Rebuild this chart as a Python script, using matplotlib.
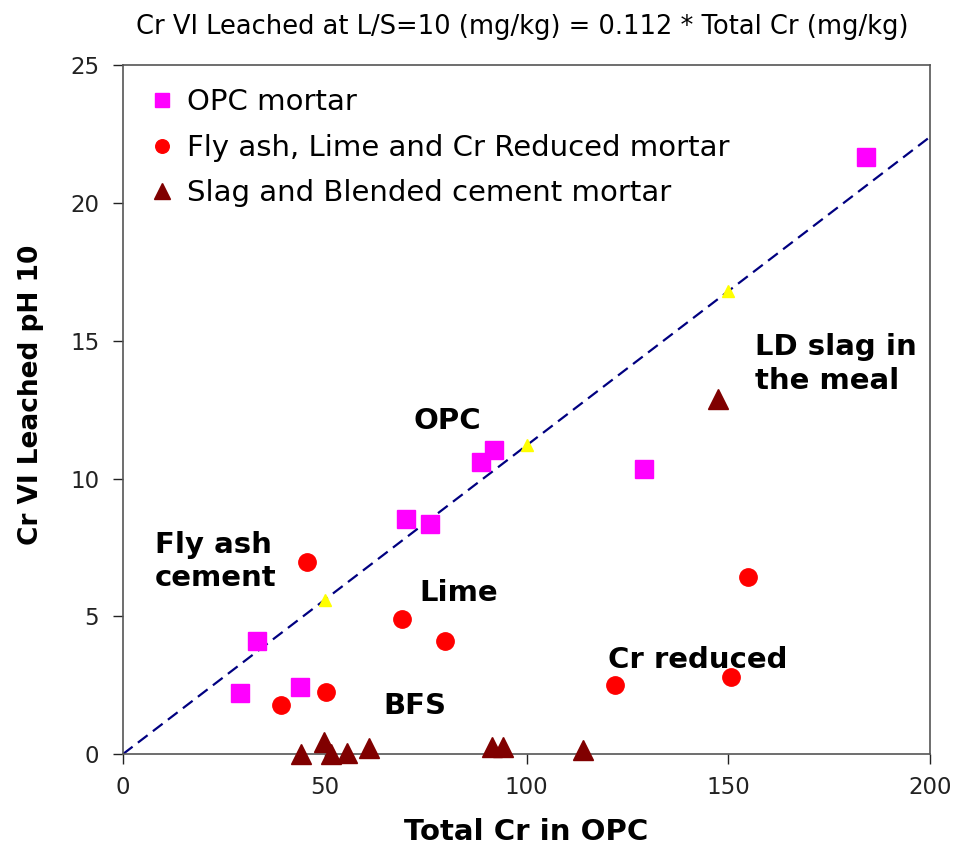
import numpy as np
import matplotlib.pyplot as plt

plt.rcParams['font.family'] = ['DejaVu Sans']

# OPC mortar
opc_x = [29.0, 33.2, 43.9, 70.1, 76.1, 88.7, 91.9, 129.1, 184.1]
opc_y = [2.21, 4.10, 2.43, 8.53, 8.35, 10.6, 11.05, 10.34, 21.66]

# Fly ash, lime and Cr reduced mortar
fly_x = [45.6, 39.2, 50.3, 69.1, 79.8, 121.9, 150.7, 154.9]
fly_y = [6.97, 1.78, 2.25, 4.90, 4.10, 2.50, 2.79, 6.42]

# Slag and blended cement mortar
slag_x = [44.1, 49.8, 51.5, 55.5, 61.0, 91.4, 94.2, 114.0, 147.5]
slag_y = [0.0, 0.45, 0.0, 0.05, 0.22, 0.25, 0.25, 0.15, 12.9]

# regression line: Cr VI = 0.112 * total Cr
slope = 0.112
line_x = [0, 200]
ref_x = [50, 100, 150]

labels = ["OPC mortar", "Fly ash, Lime and Cr Reduced mortar",
          "Slag and Blended cement mortar"]

fig = plt.figure(figsize=(9.6, 8.56), dpi=100)
ax = fig.add_axes([0.128, 0.119, 0.841, 0.805])

ax.plot(line_x, [slope * v for v in line_x], color='#000080', lw=1.6,
        dashes=(5.5, 3), zorder=1)
ax.plot(ref_x, [slope * v for v in ref_x], ls='none', marker='^',
        color='yellow', markersize=8.5, zorder=2)

ax.plot(opc_x, opc_y, ls='none', marker='s', color='#ff00ff',
        markersize=13, label=labels[0], zorder=3)
ax.plot(fly_x, fly_y, ls='none', marker='o', color='#ff0000',
        markersize=12.5, label=labels[1], zorder=3)
ax.plot(slag_x, slag_y, ls='none', marker='^', color='#800000',
        markersize=14, label=labels[2], zorder=3, clip_on=False)

ax.set_xlim(0, 200)
ax.set_ylim(0, 25)
ax.set_xticks([0, 50, 100, 150, 200])
ax.set_yticks([0, 5, 10, 15, 20, 25])
ax.tick_params(direction='out', length=7, width=1, labelsize=16.5,
               colors='#222222')
ax.tick_params(axis='y', pad=10)
ax.tick_params(axis='x', pad=9)
for s in ax.spines.values():
    s.set_color('#555555')
    s.set_linewidth(1.2)

ax.set_xlabel("Total Cr in OPC", fontsize=21, fontweight='bold')
ax.xaxis.set_label_coords(0.5, -0.093)
ax.set_ylabel("Cr VI Leached pH 10", fontsize=19, fontweight='bold')
ax.yaxis.set_label_coords(-0.098, 0.522)
fig.text(0.544, 0.968, "Cr VI Leached at L/S=10 (mg/kg) = 0.112 * Total Cr (mg/kg)",
         ha='center', va='center', fontsize=18.5)

ax.legend(loc='upper left', frameon=False, fontsize=21, markerscale=0.78,
          handlelength=0.6, handletextpad=0.54, labelspacing=0.6,
          borderaxespad=0.4, bbox_to_anchor=(0.009, 1.0))

# annotations
tk = dict(fontsize=21, fontweight='bold', va='center', ha='left')
ax.text(71.9, 12.1, "OPC", **tk)
ax.text(7.9, 6.98, "Fly ash\ncement", linespacing=1.25, **tk)
ax.text(73.4, 5.84, "Lime", **tk)
ax.text(64.6, 1.74, "BFS", **tk)
ax.text(120.2, 3.41, "Cr reduced", **tk)
ax.text(156.6, 14.15, "LD slag in\nthe meal", linespacing=1.25, **tk)

fig.savefig("out.png", dpi=100)
